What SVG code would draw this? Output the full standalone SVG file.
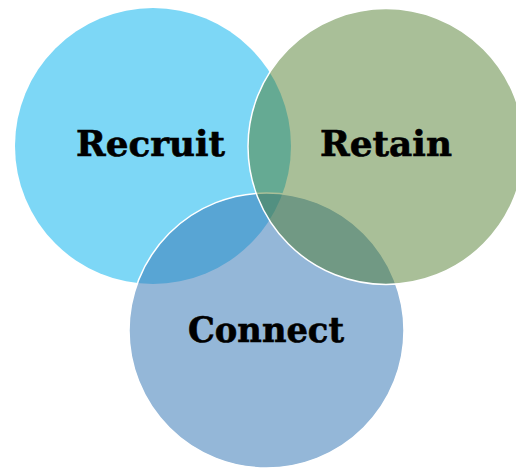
<svg xmlns="http://www.w3.org/2000/svg" width="516" height="468" viewBox="0 0 516 468">
<style>
.c{stroke:#ffffff;stroke-width:1.5}
.t{font-family:"DejaVu Serif","Liberation Serif",serif;font-weight:bold;font-size:36px;fill:#000000;stroke:#000000;stroke-width:0.6;text-anchor:middle}
</style>
<rect width="516" height="468" fill="#ffffff"/>
<g id="recruit">
<circle class="c" cx="153" cy="146" r="138" fill="#7dd7f6" stroke-opacity="0"/>
<text class="t" x="150.5" y="156" textLength="149" lengthAdjust="spacingAndGlyphs">Recruit</text>
</g>
<g id="connect">
<circle class="c" cx="266.5" cy="330.5" r="137.5" fill="#3a7ab7" fill-opacity="0.54"/>
<text class="t" x="266" y="342" textLength="156" lengthAdjust="spacingAndGlyphs">Connect</text>
</g>
<g id="retain">
<circle class="c" cx="386" cy="146.5" r="138" fill="#4c7a28" fill-opacity="0.48"/>
<text class="t" x="386" y="156" textLength="132" lengthAdjust="spacingAndGlyphs">Retain</text>
</g>
<g id="connectors"></g>
</svg>
